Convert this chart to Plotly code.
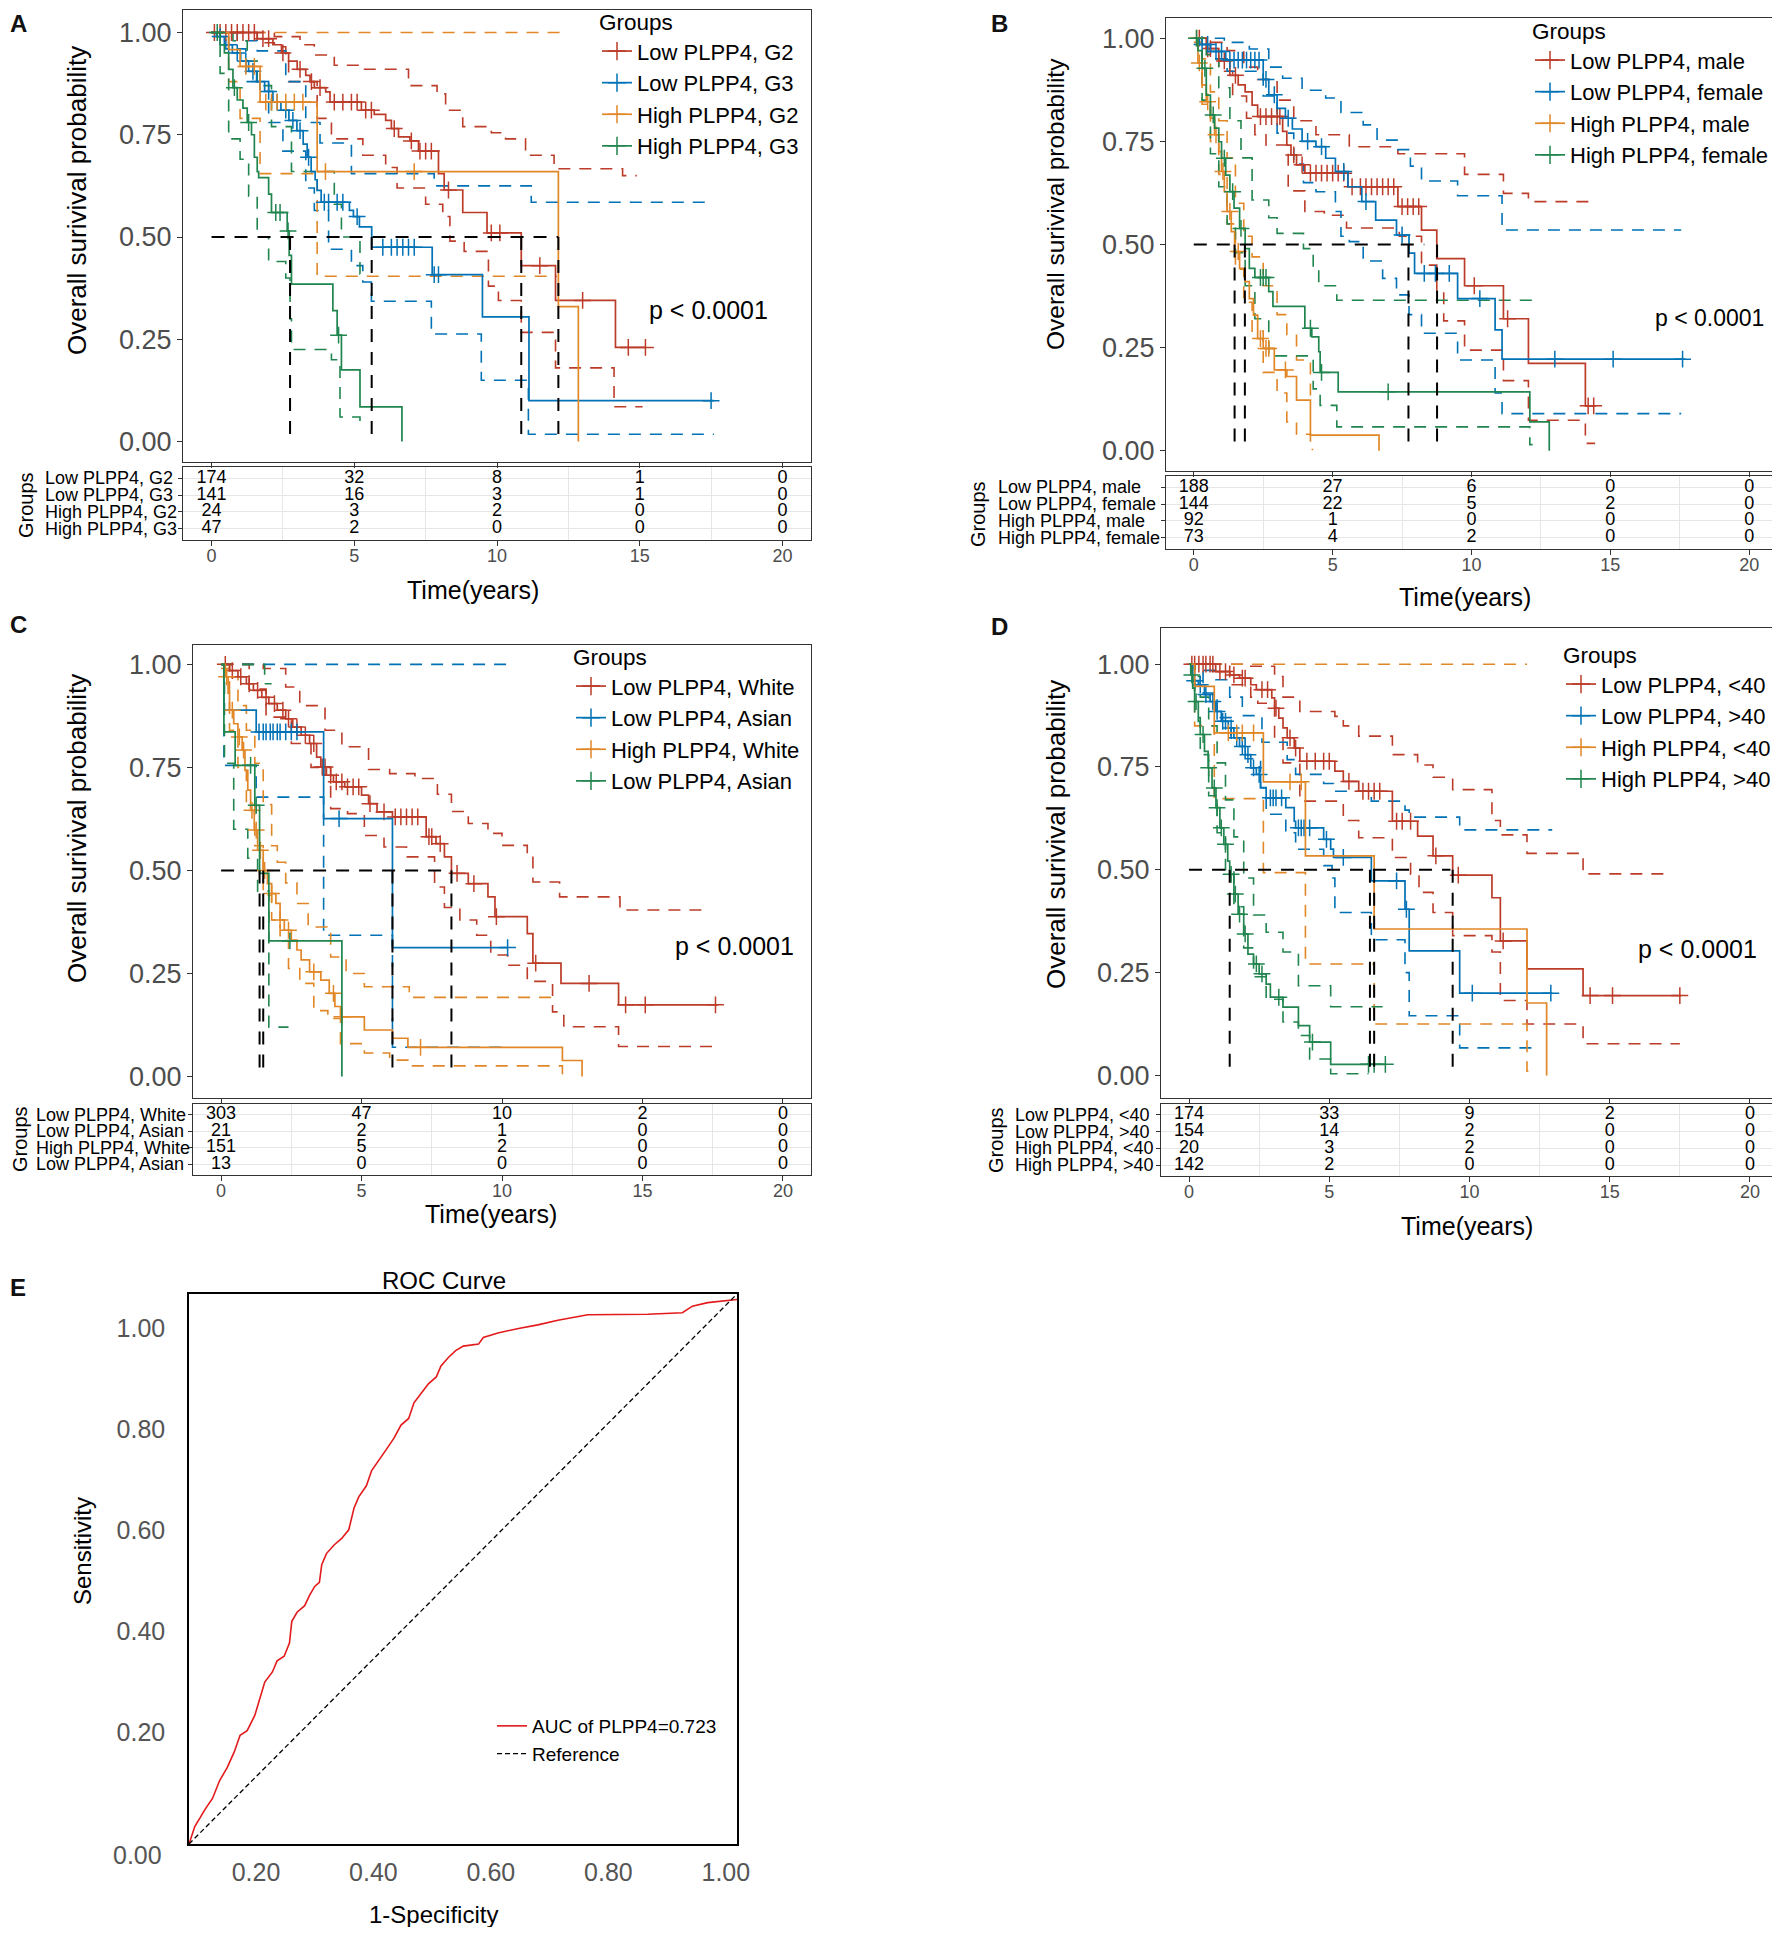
import plotly.graph_objects as go

OFF = 8                      # page body margin of the browser
FW, FH = 1772, 1919          # figure size so that page == 1780 x 1935
FONT = "Liberation Sans, Arial, sans-serif"
RED, BLUE, ORANGE, GREEN = "#BC3C29", "#0072B5", "#E18727", "#20854E"
COLORS = [RED, BLUE, ORANGE, GREEN]
TICKS = [0, 5, 10, 15, 20]

# ---------------- Panel A: grade ----------------
a_labels = ["Low PLPP4, G2", "Low PLPP4, G3", "High PLPP4, G2", "High PLPP4, G3"]
a_risk = [[174, 32, 8, 1, 0], [141, 16, 3, 1, 0], [24, 3, 2, 0, 0], [47, 2, 0, 0, 0]]
a_med = [2.75, 5.61, 10.85, 12.15]
a_hend = 12.15

a1_t = [0, 1.6, 2.15, 2.45, 2.7, 3.0, 3.3, 3.45, 3.6, 4.0, 4.15, 5.25, 5.7, 6.1, 6.3, 6.55, 6.95, 7.25, 7.95, 8.15, 8.8, 9.65, 10.85, 12.05, 14.15]
a1_s = [1.0, 0.985, 0.97, 0.95, 0.93, 0.91, 0.895, 0.88, 0.865, 0.855, 0.83, 0.81, 0.80, 0.785, 0.765, 0.745, 0.735, 0.71, 0.655, 0.615, 0.56, 0.51, 0.43, 0.345, 0.23]
a1_end = 15.2
a1_cens = [0.1, 0.3, 0.5, 0.7, 0.9, 1.1, 1.3, 1.5, 1.8, 2.0, 2.5, 3.1, 3.5, 3.8, 4.3, 4.6, 4.9, 5.1, 5.4, 5.6, 6.4, 7.0, 7.3, 7.5, 7.7, 8.3, 9.8, 10.1, 11.5, 13.0, 14.6, 15.2]
a1_up_t = [0, 2.2, 3.1, 3.6, 4.3, 5.25, 6.9, 7.9, 8.2, 8.8, 9.8, 10.3, 11.0, 12.0, 14.4]
a1_up_s = [1.0, 0.99, 0.97, 0.945, 0.92, 0.91, 0.87, 0.85, 0.81, 0.77, 0.755, 0.74, 0.70, 0.667, 0.65]
a1_up_end = 14.9
a1_lo_t = [0, 1.6, 2.2, 2.6, 2.7, 3.7, 4.2, 5.3, 6.1, 6.5, 7.5, 8.1, 8.35, 8.85, 9.7, 10.05, 10.85, 12.05, 14.1]
a1_lo_s = [1.0, 0.975, 0.965, 0.937, 0.88, 0.79, 0.74, 0.70, 0.67, 0.62, 0.58, 0.55, 0.49, 0.465, 0.38, 0.345, 0.267, 0.18, 0.085]
a1_lo_end = 15.1

a2_t = [0, 0.17, 0.45, 0.73, 1.02, 1.3, 1.58, 1.86, 2.15, 2.43, 2.71, 2.99, 3.21, 3.35, 3.49, 3.63, 3.7, 3.84, 4.83, 4.97, 5.18, 5.61, 7.73, 9.49, 11.12]
a2_s = [1.0, 0.99, 0.97, 0.95, 0.93, 0.905, 0.88, 0.856, 0.83, 0.81, 0.785, 0.76, 0.727, 0.695, 0.66, 0.64, 0.614, 0.585, 0.565, 0.55, 0.525, 0.475, 0.408, 0.305, 0.10]
a2_end = 17.6
a2_cens = [0.3, 0.6, 0.9, 1.2, 1.45, 1.7, 2.0, 2.3, 2.6, 2.85, 3.1, 3.4, 3.95, 4.1, 4.4, 4.6, 5.1, 6.0, 6.3, 6.5, 6.7, 6.9, 7.1, 7.8, 7.95, 17.5]
a2_up_t = [0, 0.9, 1.6, 2.6, 3.3, 3.8, 4.9, 7.8, 11.2]
a2_up_s = [1.0, 0.98, 0.955, 0.88, 0.78, 0.73, 0.655, 0.625, 0.585]
a2_up_end = 17.3
a2_lo_t = [0, 0.5, 1.2, 2.0, 2.5, 3.3, 3.6, 4.1, 4.9, 5.3, 5.6, 7.7, 9.45, 11.1]
a2_lo_s = [1.0, 0.96, 0.88, 0.78, 0.71, 0.62, 0.565, 0.47, 0.43, 0.39, 0.343, 0.263, 0.15, 0.018]
a2_lo_end = 17.6

a3_t = [0, 0.6, 1.0, 1.7, 3.7, 12.15, 12.85]
a3_s = [1.0, 0.958, 0.917, 0.83, 0.66, 0.33, 0.0]
a3_end = 12.85
a3_cens = [1.2, 1.5, 1.9, 2.1, 2.3, 2.6, 2.9, 3.2, 3.99, 7.1]
a3_up_t = [0]
a3_up_s = [1.0]
a3_up_end = 12.2
a3_lo_t = [0, 0.6, 1.0, 1.7, 3.7]
a3_lo_s = [1.0, 0.88, 0.79, 0.655, 0.404]
a3_lo_end = 12.1

a4_t = [0, 0.3, 0.45, 0.6, 0.75, 0.9, 1.1, 1.25, 1.4, 1.5, 1.6, 1.65, 2.0, 2.1, 2.65, 2.72, 2.8, 4.25, 4.4, 4.55, 5.2, 6.67]
a4_s = [1.0, 0.97, 0.95, 0.91, 0.865, 0.835, 0.815, 0.78, 0.75, 0.695, 0.66, 0.645, 0.605, 0.56, 0.515, 0.455, 0.385, 0.32, 0.26, 0.175, 0.085, 0.0]
a4_end = 6.67
a4_cens = [0.2, 0.8, 1.3, 2.25, 2.4, 2.68, 4.45]
a4_up_t = [0, 0.75, 1.25, 1.6, 2.1, 2.8, 4.3, 4.55, 5.2]
a4_up_s = [1.0, 0.98, 0.93, 0.87, 0.77, 0.66, 0.58, 0.50, 0.41]
a4_up_end = 5.5
a4_lo_t = [0, 0.3, 0.6, 1.0, 1.3, 1.6, 2.0, 2.6, 2.75, 2.8, 4.2, 4.5, 5.2]
a4_lo_s = [1.0, 0.9, 0.74, 0.69, 0.60, 0.50, 0.44, 0.40, 0.30, 0.225, 0.20, 0.06, 0.05]
a4_lo_end = 5.2

# ---------------- Panel B: gender ----------------
b_labels = ["Low PLPP4, male", "Low PLPP4, female", "High PLPP4, male", "High PLPP4, female"]
b_risk = [[188, 27, 6, 0, 0], [144, 22, 5, 2, 0], [92, 1, 0, 0, 0], [73, 4, 2, 0, 0]]
b_med = [1.47, 1.84, 7.73, 8.76]
b_hend = 8.3

b1_t = [0, 0.45, 0.9, 1.3, 1.6, 1.85, 2.1, 2.3, 3.2, 3.35, 3.5, 3.7, 4.0, 5.55, 7.35, 8.2, 8.75, 9.75, 11.15, 12.05, 14.1]
b1_s = [1.0, 0.975, 0.945, 0.91, 0.887, 0.87, 0.838, 0.81, 0.774, 0.741, 0.717, 0.693, 0.673, 0.64, 0.592, 0.535, 0.466, 0.40, 0.32, 0.212, 0.109]
b1_end = 14.45
b1_cens = [0.2, 0.6, 1.1, 1.5, 2.4, 2.6, 2.8, 3.0, 3.1, 3.6, 3.9, 4.2, 4.4, 4.6, 4.8, 5.0, 5.2, 5.4, 5.7, 6.0, 6.2, 6.4, 6.6, 6.8, 7.0, 7.2, 7.5, 7.7, 7.9, 8.1, 10.1, 11.3, 14.2, 14.4]
b1_up_t = [0, 0.5, 1.2, 1.8, 2.3, 3.0, 3.6, 4.4, 5.6, 7.35, 9.75, 11.15, 12.05]
b1_up_s = [1.0, 0.99, 0.97, 0.93, 0.90, 0.85, 0.80, 0.766, 0.737, 0.72, 0.67, 0.624, 0.604]
b1_up_end = 14.4
b1_lo_t = [0, 0.5, 0.9, 1.4, 1.9, 2.2, 2.6, 3.4, 4.0, 4.7, 5.5, 7.4, 8.2, 8.75, 9.0, 9.75, 11.15, 12.05, 14.1]
b1_lo_s = [1.0, 0.95, 0.92, 0.86, 0.806, 0.766, 0.741, 0.63, 0.58, 0.571, 0.54, 0.52, 0.45, 0.39, 0.315, 0.244, 0.17, 0.074, 0.018]
b1_lo_end = 14.45

b2_t = [0, 0.2, 0.6, 1.15, 2.5, 2.7, 3.0, 3.3, 3.55, 3.9, 4.4, 4.75, 5.1, 5.55, 6.05, 6.55, 7.3, 7.75, 7.95, 9.5, 10.85, 11.1]
b2_s = [1.0, 0.985, 0.968, 0.947, 0.90, 0.863, 0.83, 0.806, 0.78, 0.75, 0.737, 0.709, 0.677, 0.64, 0.604, 0.559, 0.523, 0.479, 0.43, 0.369, 0.293, 0.222]
b2_end = 17.7
b2_cens = [0.3, 0.5, 0.8, 1.0, 1.3, 1.45, 1.6, 1.75, 1.9, 2.05, 2.2, 2.35, 2.6, 2.9, 3.4, 4.1, 4.6, 5.4, 6.2, 7.5, 8.3, 8.7, 9.2, 10.3, 13.0, 15.1, 17.6]
b2_up_t = [0, 1.1, 2.0, 2.7, 3.2, 3.9, 4.75, 5.3, 6.1, 6.6, 7.35, 7.8, 8.2, 9.5, 11.1]
b2_up_s = [1.0, 0.99, 0.974, 0.93, 0.903, 0.874, 0.855, 0.82, 0.79, 0.753, 0.73, 0.69, 0.654, 0.618, 0.535]
b2_up_end = 17.55
b2_lo_t = [0, 0.6, 1.2, 2.5, 3.0, 3.6, 3.95, 4.4, 5.1, 5.3, 5.6, 6.1, 6.8, 7.3, 7.75, 8.2, 9.5, 10.85, 11.1]
b2_lo_s = [1.0, 0.95, 0.92, 0.86, 0.77, 0.695, 0.65, 0.628, 0.58, 0.52, 0.507, 0.46, 0.418, 0.378, 0.33, 0.285, 0.22, 0.14, 0.09]
b2_lo_end = 17.55

b3_t = [0, 0.15, 0.3, 0.45, 0.6, 0.75, 0.9, 1.0, 1.1, 1.2, 1.35, 1.47, 1.65, 1.85, 2.0, 2.15, 2.3, 2.5, 2.9, 3.35, 3.7, 4.2, 6.67]
b3_s = [1.0, 0.94, 0.887, 0.846, 0.806, 0.766, 0.725, 0.677, 0.628, 0.58, 0.531, 0.483, 0.442, 0.41, 0.369, 0.329, 0.272, 0.248, 0.196, 0.18, 0.123, 0.038, 0.0]
b3_end = 6.67
b3_cens = [0.1, 0.2, 0.5, 0.8, 1.05, 1.3, 1.6, 2.4, 2.6, 2.7, 3.3]
b3_up_t = [0, 0.3, 0.6, 0.9, 1.2, 1.5, 1.8, 2.1, 2.5, 3.0, 3.35, 3.7, 4.2]
b3_up_s = [1.0, 0.95, 0.87, 0.80, 0.71, 0.60, 0.52, 0.47, 0.40, 0.33, 0.28, 0.22, 0.13]
b3_up_end = 4.3
b3_lo_t = [0, 0.3, 0.6, 0.9, 1.2, 1.5, 1.8, 2.1, 2.5, 3.0, 3.35, 3.7, 4.2]
b3_lo_s = [0.99, 0.84, 0.75, 0.67, 0.55, 0.44, 0.36, 0.29, 0.19, 0.14, 0.07, 0.04, 0.003]
b3_lo_end = 4.3

b4_t = [0, 0.15, 0.3, 0.45, 0.6, 0.75, 0.9, 1.0, 1.15, 1.3, 1.45, 1.65, 1.85, 2.0, 2.2, 2.7, 2.85, 4.0, 4.25, 4.5, 4.55, 5.2, 12.1, 12.8]
b4_s = [1.0, 0.97, 0.927, 0.862, 0.814, 0.782, 0.749, 0.709, 0.668, 0.628, 0.588, 0.539, 0.49, 0.442, 0.42, 0.386, 0.35, 0.297, 0.276, 0.24, 0.19, 0.143, 0.07, 0.0]
b4_end = 12.8
b4_cens = [0.1, 0.4, 0.7, 1.1, 1.4, 1.7, 2.4, 2.5, 2.6, 4.2, 4.6, 7.0]
b4_up_t = [0, 0.45, 0.9, 1.3, 1.7, 2.1, 2.7, 3.0, 3.95, 4.3, 4.5, 5.15]
b4_up_s = [1.0, 0.96, 0.88, 0.80, 0.71, 0.608, 0.565, 0.527, 0.49, 0.44, 0.40, 0.365]
b4_up_end = 12.2
b4_lo_t = [0, 0.3, 0.6, 0.9, 1.2, 1.5, 1.85, 2.2, 2.7, 4.3, 4.55, 5.15, 12.1]
b4_lo_s = [1.0, 0.85, 0.72, 0.64, 0.55, 0.48, 0.40, 0.32, 0.23, 0.15, 0.11, 0.058, 0.015]
b4_lo_end = 12.2

# ---------------- Panel C: race ----------------
c_labels = ["Low PLPP4, White", "Low PLPP4, Asian", "High PLPP4, White", "Low PLPP4, Asian"]
c_risk = [[303, 47, 10, 2, 0], [21, 2, 1, 0, 0], [151, 5, 2, 0, 0], [13, 0, 0, 0, 0]]
c_med = [1.37, 1.5, 6.1, 8.2]
c_hend = 8.2

c1_t = [0, 0.3, 0.6, 0.9, 1.15, 1.45, 1.7, 2.0, 2.3, 2.55, 2.85, 3.15, 3.4, 3.55, 3.75, 4.0, 4.4, 5.0, 5.25, 5.55, 6.1, 7.3, 7.65, 7.95, 8.2, 8.8, 9.5, 9.75, 10.9, 11.1, 12.1, 14.15]
c1_s = [1.0, 0.985, 0.97, 0.953, 0.937, 0.92, 0.905, 0.889, 0.868, 0.848, 0.828, 0.808, 0.775, 0.751, 0.731, 0.715, 0.703, 0.683, 0.662, 0.642, 0.63, 0.582, 0.565, 0.533, 0.493, 0.468, 0.436, 0.388, 0.347, 0.275, 0.226, 0.174]
c1_end = 17.7
c1_cens = [0.15, 0.4, 0.7, 1.0, 1.3, 1.6, 1.9, 2.2, 2.4, 2.7, 3.0, 3.3, 3.6, 3.7, 3.9, 4.1, 4.3, 4.5, 4.7, 4.9, 5.3, 5.8, 6.2, 6.4, 6.6, 6.8, 7.0, 7.4, 7.5, 7.8, 8.4, 9.0, 9.8, 11.2, 13.1, 14.4, 15.1, 17.6]
c1_up_t = [0, 1.5, 2.3, 2.8, 3.7, 4.3, 5.25, 6.0, 6.9, 7.7, 8.2, 8.8, 9.5, 10.0, 10.9, 11.1, 12.05, 14.2]
c1_up_s = [1.0, 0.99, 0.945, 0.90, 0.84, 0.80, 0.745, 0.735, 0.723, 0.685, 0.643, 0.614, 0.59, 0.561, 0.535, 0.472, 0.436, 0.404]
c1_up_end = 17.1
c1_lo_t = [0, 1.0, 1.6, 2.5, 3.2, 3.9, 4.5, 5.1, 5.8, 6.6, 7.6, 7.95, 8.5, 9.1, 9.6, 10.2, 10.9, 11.8, 12.2, 14.15]
c1_lo_s = [1.0, 0.94, 0.872, 0.808, 0.75, 0.65, 0.638, 0.585, 0.557, 0.533, 0.46, 0.41, 0.38, 0.343, 0.295, 0.27, 0.231, 0.157, 0.121, 0.073]
c1_lo_end = 17.6

c2_t = [0, 0.1, 1.25, 3.65, 6.1]
c2_s = [1.0, 0.889, 0.836, 0.626, 0.313]
c2_end = 10.2
c2_cens = [1.35, 1.5, 1.6, 1.75, 1.85, 2.0, 2.1, 2.3, 2.5, 2.7, 4.2, 10.2]
c2_up_t = [0]
c2_up_s = [1.0]
c2_up_end = 10.2
c2_lo_t = [0, 0.1, 1.25, 3.65, 6.1]
c2_lo_s = [1.0, 0.755, 0.678, 0.343, 0.071]
c2_lo_end = 10.0

c3_t = [0, 0.15, 0.25, 0.3, 0.45, 0.6, 0.75, 0.85, 0.95, 1.05, 1.18, 1.3, 1.5, 1.65, 1.8, 1.95, 2.1, 2.25, 2.5, 2.7, 2.85, 3.15, 3.55, 3.85, 4.05, 4.25, 5.1, 6.1, 6.65, 12.15, 12.85]
c3_s = [1.0, 0.97, 0.93, 0.889, 0.856, 0.824, 0.792, 0.743, 0.695, 0.646, 0.598, 0.549, 0.50, 0.468, 0.444, 0.42, 0.38, 0.355, 0.331, 0.307, 0.283, 0.254, 0.234, 0.202, 0.17, 0.145, 0.113, 0.093, 0.071, 0.039, 0.0]
c3_end = 12.85
c3_cens = [0.2, 0.4, 0.65, 0.8, 1.1, 1.25, 1.4, 1.55, 1.8, 2.1, 2.4, 3.3, 4.0, 4.3, 7.1]
c3_up_t = [0, 0.3, 0.6, 0.9, 1.2, 1.5, 1.8, 2.0, 2.3, 2.7, 3.1, 3.9, 4.45, 5.1, 6.7]
c3_up_s = [1.0, 0.97, 0.90, 0.84, 0.76, 0.66, 0.56, 0.52, 0.47, 0.42, 0.363, 0.29, 0.25, 0.218, 0.192]
c3_up_end = 11.8
c3_lo_t = [0, 0.3, 0.6, 0.9, 1.2, 1.5, 1.8, 2.1, 2.4, 2.8, 3.3, 3.8, 4.25, 5.1, 6.0, 6.65, 12.15]
c3_lo_s = [0.99, 0.84, 0.75, 0.66, 0.56, 0.44, 0.38, 0.33, 0.262, 0.226, 0.16, 0.141, 0.08, 0.057, 0.04, 0.026, 0.004]
c3_lo_end = 12.2

c4_t = [0, 0.1, 0.5, 1.2, 1.37, 1.7, 4.3]
c4_s = [1.0, 0.836, 0.755, 0.658, 0.493, 0.329, 0.0]
c4_end = 4.3
c4_cens = [1.05, 1.25, 2.45]
c4_up_t = [0, 1.55]
c4_up_s = [1.0, 0.953]
c4_up_end = 1.8
c4_lo_t = [0, 0.12, 0.45, 0.95, 1.3, 1.7]
c4_lo_s = [1.0, 0.76, 0.60, 0.53, 0.45, 0.12]
c4_lo_end = 2.4

# ---------------- Panel D: age ----------------
d_labels = ["Low PLPP4, &lt;40", "Low PLPP4, &gt;40", "High PLPP4, &lt;40", "High PLPP4, &gt;40"]
d_risk = [[174, 33, 9, 2, 0], [154, 14, 2, 0, 0], [20, 3, 2, 0, 0], [142, 2, 0, 0, 0]]
d_med = [1.45, 6.45, 6.6, 9.4]
d_hend = 9.32

d1_t = [0, 0.95, 1.45, 1.8, 2.2, 2.4, 2.95, 3.05, 3.2, 3.35, 3.5, 3.75, 3.95, 5.2, 5.5, 6.05, 7.25, 8.15, 8.7, 9.4, 10.8, 11.1, 12.05, 14.05]
d1_s = [1.0, 0.982, 0.974, 0.966, 0.95, 0.938, 0.918, 0.893, 0.869, 0.845, 0.821, 0.796, 0.764, 0.74, 0.715, 0.691, 0.618, 0.582, 0.534, 0.487, 0.432, 0.327, 0.259, 0.194]
d1_end = 17.55
d1_cens = [0.1, 0.2, 0.35, 0.5, 0.6, 0.75, 0.85, 1.1, 1.3, 1.6, 1.9, 2.0, 2.6, 2.8, 3.1, 3.6, 3.8, 4.2, 4.5, 4.8, 5.0, 5.7, 6.2, 6.4, 6.6, 6.8, 7.4, 7.6, 7.9, 8.8, 9.6, 11.2, 14.3, 15.1, 17.5]
d1_up_t = [0, 2.2, 3.05, 3.35, 3.95, 5.2, 5.5, 6.05, 7.25, 8.15, 8.7, 9.4, 10.8, 11.1, 12.05, 14.05]
d1_up_s = [1.0, 0.995, 0.97, 0.92, 0.885, 0.873, 0.85, 0.825, 0.78, 0.755, 0.725, 0.695, 0.62, 0.585, 0.54, 0.49]
d1_up_end = 17.0
d1_lo_t = [0, 1.45, 2.2, 2.45, 3.05, 3.35, 3.95, 5.5, 6.05, 7.25, 7.9, 8.2, 8.7, 9.4, 10.8, 11.1, 12.05, 14.05]
d1_lo_s = [1.0, 0.95, 0.92, 0.905, 0.82, 0.76, 0.667, 0.62, 0.578, 0.53, 0.489, 0.445, 0.396, 0.34, 0.30, 0.182, 0.125, 0.077]
d1_lo_end = 17.5

d2_t = [0, 0.13, 0.33, 0.55, 0.75, 0.95, 1.15, 1.4, 1.6, 1.8, 2.0, 2.2, 2.4, 2.55, 2.75, 3.45, 3.75, 3.8, 4.8, 5.05, 5.15, 6.5, 7.7, 7.85, 9.65]
d2_s = [1.0, 0.96, 0.95, 0.926, 0.909, 0.885, 0.861, 0.845, 0.821, 0.80, 0.78, 0.748, 0.732, 0.699, 0.675, 0.651, 0.618, 0.602, 0.574, 0.55, 0.53, 0.473, 0.404, 0.303, 0.20]
d2_end = 12.95
d2_cens = [0.2, 0.4, 0.6, 0.85, 1.0, 1.2, 1.3, 1.5, 1.7, 1.9, 2.1, 2.3, 2.5, 2.9, 3.0, 3.1, 3.3, 3.9, 4.0, 4.1, 4.3, 4.9, 5.5, 7.4, 7.75, 10.1, 12.9]
d2_up_t = [0, 0.5, 0.95, 1.45, 1.9, 2.6, 3.5, 3.8, 4.8, 5.15, 6.5, 7.7, 7.85, 9.65]
d2_up_s = [1.0, 0.985, 0.962, 0.92, 0.875, 0.81, 0.768, 0.732, 0.71, 0.691, 0.667, 0.645, 0.628, 0.597]
d2_up_end = 12.95
d2_lo_t = [0, 0.5, 1.0, 1.5, 2.0, 2.55, 2.75, 3.45, 3.8, 4.8, 5.1, 5.2, 6.5, 7.7, 7.85, 9.65]
d2_lo_s = [1.0, 0.93, 0.87, 0.82, 0.77, 0.70, 0.635, 0.59, 0.55, 0.51, 0.48, 0.396, 0.33, 0.25, 0.145, 0.067]
d2_lo_end = 12.4

d3_t = [0, 0.2, 0.9, 2.65, 4.15, 6.6, 12.05, 12.75]
d3_s = [1.0, 0.946, 0.833, 0.714, 0.534, 0.356, 0.176, 0.0]
d3_end = 12.75
d3_cens = [1.4, 1.7, 1.9, 2.3, 3.6, 4.0]
d3_up_t = [0]
d3_up_s = [1.0]
d3_up_end = 12.05
d3_lo_t = [0, 0.2, 0.9, 2.65, 4.15, 6.6, 12.05]
d3_lo_s = [1.0, 0.85, 0.673, 0.493, 0.271, 0.125, 0.01]
d3_lo_end = 12.1

d4_t = [0, 0.06, 0.13, 0.2, 0.33, 0.4, 0.55, 0.68, 0.82, 0.96, 1.1, 1.24, 1.38, 1.45, 1.6, 1.75, 1.95, 2.1, 2.3, 2.5, 2.75, 2.9, 3.35, 3.9, 4.3, 5.05]
d4_s = [1.0, 0.974, 0.942, 0.909, 0.861, 0.829, 0.788, 0.748, 0.699, 0.651, 0.602, 0.562, 0.521, 0.489, 0.441, 0.392, 0.344, 0.295, 0.271, 0.247, 0.222, 0.19, 0.166, 0.121, 0.081, 0.027]
d4_end = 7.0
d4_cens = [0.1, 0.25, 0.5, 0.7, 0.9, 1.0, 1.15, 1.3, 1.5, 1.65, 1.8, 2.0, 2.4, 2.6, 3.2, 4.4, 6.4, 6.6, 7.0]
d4_up_t = [0, 0.2, 0.4, 0.7, 1.0, 1.3, 1.6, 1.95, 2.3, 2.75, 3.35, 3.9, 5.05]
d4_up_s = [1.0, 0.97, 0.92, 0.85, 0.76, 0.67, 0.58, 0.48, 0.39, 0.348, 0.30, 0.218, 0.167]
d4_up_end = 6.9
d4_lo_t = [0, 0.2, 0.4, 0.7, 1.0, 1.3, 1.6, 1.95, 2.3, 2.75, 3.35, 3.9, 4.3, 5.05]
d4_lo_s = [1.0, 0.87, 0.78, 0.68, 0.59, 0.50, 0.41, 0.31, 0.24, 0.185, 0.13, 0.097, 0.04, 0.004]
d4_lo_end = 6.4

# ---------------- Panel E: ROC ----------------
roc_fpr = [0.086, 0.096, 0.105, 0.113, 0.126, 0.138, 0.151, 0.163, 0.173, 0.185, 0.198, 0.206, 0.215, 0.228, 0.236, 0.248, 0.257, 0.261, 0.270, 0.283, 0.291, 0.300, 0.308, 0.312, 0.320, 0.333, 0.346, 0.358, 0.367, 0.375, 0.388, 0.397, 0.410, 0.422, 0.435, 0.447, 0.460, 0.469, 0.482, 0.494, 0.507, 0.515, 0.528, 0.540, 0.553, 0.579, 0.587, 0.612, 0.647, 0.680, 0.714, 0.765, 0.867, 0.926, 0.943, 0.969, 1.019]
roc_tpr = [-0.020, 0.015, 0.032, 0.048, 0.070, 0.105, 0.131, 0.162, 0.195, 0.204, 0.234, 0.265, 0.300, 0.320, 0.342, 0.351, 0.377, 0.420, 0.438, 0.451, 0.471, 0.489, 0.497, 0.532, 0.554, 0.571, 0.584, 0.601, 0.644, 0.666, 0.688, 0.718, 0.739, 0.760, 0.782, 0.808, 0.821, 0.852, 0.872, 0.890, 0.903, 0.925, 0.942, 0.955, 0.964, 0.968, 0.981, 0.990, 0.999, 1.006, 1.015, 1.026, 1.027, 1.030, 1.043, 1.050, 1.056]
ref_x = [0.086, 1.019]
ref_y = [-0.020, 1.067]
roc_xticks = [0.2, 0.4, 0.6, 0.8, 1.0]
roc_yticks = [0.2, 0.4, 0.6, 0.8, 1.0]
auc_label = "AUC of PLPP4=0.723"

Y_TICKS = [0, 0.25, 0.5, 0.75, 1.0]
Y_TEXT = ["0.00", "0.25", "0.50", "0.75", "1.00"]


def grp(p, i):
    g = globals()
    k = f"{p}{i}_"
    return dict(t=g[k + "t"], s=g[k + "s"], end=g[k + "end"], cens=g[k + "cens"],
                ut=g[k + "up_t"], us=g[k + "up_s"], uend=g[k + "up_end"],
                lt=g[k + "lo_t"], ls=g[k + "lo_s"], lend=g[k + "lo_end"])


# positions below are in page pixels (1780 x 1935 page)
PANELS = [
    dict(key="a", letter="A", labels=a_labels, risk=a_risk, med=a_med, hend=a_hend,
         bx=(183, 811), my=(10, 462), ry=(467, 540), yr=[-0.05, 1.055],
         let=(8, 8), yt=(77, 201), ytf=26, grp=(26, 505), rl=43, tt=(473, 590),
         leg=(597, 1), p=(708, 310), pf=25),
    dict(key="b", letter="B", labels=b_labels, risk=b_risk, med=b_med, hend=b_hend,
         bx=(1166, 1777), my=(18, 471), ry=(476, 549), yr=[-0.049, 1.049],
         let=(989, 8), yt=(1056, 204), ytf=24.5, grp=(978, 514), rl=996, tt=(1465, 597),
         leg=(1530, 10), p=(1709, 318), pf=23),
    dict(key="c", letter="C", labels=c_labels, risk=c_risk, med=c_med, hend=c_hend,
         bx=(193, 811), my=(645, 1098), ry=(1104, 1175), yr=[-0.052, 1.047],
         let=(8, 609), yt=(77, 829), ytf=26, grp=(20, 1139), rl=34, tt=(491, 1214),
         leg=(571, 636), p=(734, 946), pf=25),
    dict(key="d", letter="D", labels=d_labels, risk=d_risk, med=d_med, hend=d_hend,
         bx=(1161, 1778), my=(628, 1098), ry=(1104, 1176), yr=[-0.055, 1.088],
         let=(989, 611), yt=(1056, 835), ytf=26, grp=(996, 1140), rl=1013, tt=(1467, 1226),
         leg=(1561, 634), p=(1697, 949), pf=25),
]


def px_x(x):
    return (x - OFF) / FW


def px_y(y):
    return 1 - (y - OFF) / FH


def stepxy(t, s, end):
    return list(t) + [end], list(s) + [s[-1]]


def surv_at(t, s, c):
    v = s[0]
    for ti, si in zip(t, s):
        if ti <= c:
            v = si
    return v


def axn(n, kind):
    return kind if n == 1 else f"{kind}{n}"


def lkey(n, kind):
    return f"{kind}axis" if n == 1 else f"{kind}axis{n}"


fig = go.Figure()
layout = dict(width=FW, height=FH, margin=dict(l=0, r=0, t=0, b=0, autoexpand=False), autosize=False,
              paper_bgcolor="white", plot_bgcolor="white",
              font=dict(family=FONT, color="black"), showlegend=True)
annotations = []
AXC = "#333333"
TICKC = "#4D4D4D"

for pi, P in enumerate(PANELS):
    nm = 2 * pi + 1
    nr = 2 * pi + 2
    legname = "legend" if pi == 0 else f"legend{pi + 1}"
    xm, ym = axn(nm, "x"), axn(nm, "y")
    xr, yrr = axn(nr, "x"), axn(nr, "y")
    groups = [grp(P["key"], i) for i in range(1, 5)]
    for gi, g in enumerate(groups):
        for tt, ss, ee in ((g["ut"], g["us"], g["uend"]), (g["lt"], g["ls"], g["lend"])):
            x, y = stepxy(tt, ss, ee)
            fig.add_trace(go.Scatter(x=x, y=y, mode="lines", line=dict(color=COLORS[gi], width=1.6, dash="12px,9px", shape="hv"),
                                     xaxis=xm, yaxis=ym, showlegend=False, hoverinfo="skip"))
    for gi, g in enumerate(groups):
        x, y = stepxy(g["t"], g["s"], g["end"])
        fig.add_trace(go.Scatter(x=x, y=y, mode="lines", line=dict(color=COLORS[gi], width=1.7, shape="hv"),
                                 xaxis=xm, yaxis=ym, showlegend=False))
        cy = [surv_at(g["t"], g["s"], c) for c in g["cens"]]
        fig.add_trace(go.Scatter(x=g["cens"], y=cy, mode="markers",
                                 marker=dict(symbol="cross-thin", size=12, line=dict(color=COLORS[gi], width=1.5)),
                                 xaxis=xm, yaxis=ym, showlegend=False))
    mx, my_ = [0, P["hend"]], [0.5, 0.5]
    for m in P["med"]:
        mx += [None, m, m]
        my_ += [None, 0.5, 0]
    fig.add_trace(go.Scatter(x=mx, y=my_, mode="lines", line=dict(color="black", width=2, dash="13px,10px"),
                             xaxis=xm, yaxis=ym, showlegend=False, hoverinfo="skip"))
    for gi, lab in enumerate(P["labels"]):
        fig.add_trace(go.Scatter(x=[None], y=[None], mode="lines+markers", name=lab,
                                 line=dict(color=COLORS[gi], width=1.7),
                                 marker=dict(symbol="cross-thin", size=13, line=dict(color=COLORS[gi], width=1.5)),
                                 xaxis=xm, yaxis=ym, legend=legname, showlegend=True))
    rx, ry, rt = [], [], []
    for ri, row in enumerate(P["risk"]):
        for tx, v in zip(TICKS, row):
            rx.append(tx)
            ry.append(ri + 1)
            rt.append(str(v))
    fig.add_trace(go.Scatter(x=rx, y=ry, text=rt, mode="text", textfont=dict(size=18, color="black", family=FONT),
                             xaxis=xr, yaxis=yrr, showlegend=False, hoverinfo="skip"))

    bx = [px_x(P["bx"][0]), px_x(P["bx"][1])]
    layout[lkey(nm, "x")] = dict(domain=bx, range=[-1, 21], tickvals=TICKS, ticks="outside", ticklen=5,
                                 tickcolor=AXC, showticklabels=False, showline=True, mirror=True,
                                 linecolor=AXC, linewidth=1, showgrid=False, zeroline=False, anchor=ym)
    layout[lkey(nm, "y")] = dict(domain=[px_y(P["my"][1]), px_y(P["my"][0])], range=P["yr"], tickvals=Y_TICKS,
                                 ticktext=Y_TEXT, ticks="outside", ticklen=5, tickcolor=AXC,
                                 tickfont=dict(size=27, color=TICKC), showline=True, mirror=True,
                                 linecolor=AXC, linewidth=1, showgrid=False, zeroline=False, anchor=xm)
    layout[lkey(nr, "x")] = dict(domain=bx, range=[-1, 21], tickvals=TICKS, ticks="outside", ticklen=5,
                                 tickcolor=AXC, tickfont=dict(size=18, color=TICKC), showline=True, mirror=True,
                                 linecolor=AXC, linewidth=1, showgrid=False, zeroline=False, anchor=yrr,
                                 ticklabelstandoff=-6,
                                 minor=dict(tickvals=[2.5, 7.5, 12.5, 17.5], showgrid=True, gridcolor="#E6E6E6",
                                            gridwidth=1, ticks=""))
    layout[lkey(nr, "y")] = dict(domain=[px_y(P["ry"][1]), px_y(P["ry"][0])], range=[4.65, 0.35],
                                 tickvals=[1, 2, 3, 4], ticktext=["", "", "", ""], ticks="outside", ticklen=4,
                                 tickcolor=AXC, showline=True, mirror=True, linecolor=AXC, linewidth=1,
                                 showgrid=True, gridcolor="#E6E6E6", zeroline=False, anchor=xr)
    layout[legname] = dict(x=px_x(P["leg"][0]), y=px_y(P["leg"][1]), xanchor="left", yanchor="top",
                           bgcolor="rgba(0,0,0,0)", font=dict(size=22, color="black", family=FONT),
                           title=dict(text="Groups", font=dict(size=22.5, color="black", family=FONT)),
                           tracegroupgap=0, itemwidth=30)

    rtop, rbot = P["ry"]
    for ri, lab in enumerate(P["labels"]):
        yv = rtop + (rbot - rtop) * ((ri + 1) - 0.35) / 4.3
        annotations.append(dict(x=px_x(P["rl"]), y=px_y(yv), xref="paper", yref="paper", text=lab,
                                showarrow=False, xanchor="left", yanchor="middle",
                                font=dict(size=18, color="black", family=FONT)))
    annotations += [
        dict(x=px_x(P["let"][0]), y=px_y(P["let"][1]), xref="paper", yref="paper", text=f"<b>{P['letter']}</b>",
             showarrow=False, xanchor="left", yanchor="top", font=dict(size=24, color="#111", family=FONT)),
        dict(x=px_x(P["yt"][0]), y=px_y(P["yt"][1]), xref="paper", yref="paper", text="Overall surivival probability",
             showarrow=False, textangle=-90, xanchor="center", yanchor="middle", font=dict(size=P["ytf"], color="black")),
        dict(x=px_x(P["grp"][0]), y=px_y(P["grp"][1]), xref="paper", yref="paper", text="Groups",
             showarrow=False, textangle=-90, xanchor="center", yanchor="middle", font=dict(size=20, color="black")),
        dict(x=px_x(P["tt"][0]), y=px_y(P["tt"][1]), xref="paper", yref="paper", text="Time(years)",
             showarrow=False, xanchor="center", yanchor="middle", font=dict(size=25, color="black")),
        dict(x=px_x(P["p"][0]), y=px_y(P["p"][1]), xref="paper", yref="paper", text="p &lt; 0.0001",
             showarrow=False, xanchor="center", yanchor="middle", font=dict(size=P["pf"], color="black")),
    ]

# ROC panel
fig.add_trace(go.Scatter(x=roc_fpr, y=roc_tpr, mode="lines", name=auc_label, line=dict(color="#E31A1C", width=1.6),
                         xaxis="x9", yaxis="y9", legend="legend5"))
fig.add_trace(go.Scatter(x=ref_x, y=ref_y, mode="lines", name="Reference",
                         line=dict(color="black", width=1.3, dash="5px,3px"),
                         xaxis="x9", yaxis="y9", legend="legend5"))
layout["xaxis9"] = dict(domain=[px_x(189), px_x(737)], range=[ref_x[0], ref_x[1]], tickvals=roc_xticks,
                        ticktext=[f"{v:.2f}" for v in roc_xticks], ticks="", tickfont=dict(size=25, color="#555"),
                        showline=True, mirror=True, linecolor="black", linewidth=1.5, showgrid=False,
                        zeroline=False, anchor="y9", ticklabelstandoff=5)
layout["yaxis9"] = dict(domain=[px_y(1844), px_y(1294)], range=[ref_y[0], ref_y[1]], tickvals=roc_yticks,
                        ticktext=[f"{v:.2f}" for v in roc_yticks], ticks="", tickfont=dict(size=25, color="#555"),
                        showline=True, mirror=True, linecolor="black", linewidth=1.5, showgrid=False,
                        zeroline=False, anchor="x9", ticklabelstandoff=17)
layout["legend5"] = dict(x=px_x(492), y=px_y(1707), xanchor="left", yanchor="top", bgcolor="rgba(0,0,0,0)",
                         font=dict(size=19, color="black", family=FONT), tracegroupgap=0, itemwidth=30)
annotations += [
    dict(x=px_x(164), y=px_y(1855), xref="paper", yref="paper", text="0.00", showarrow=False,
         xanchor="right", yanchor="middle", font=dict(size=25, color="#555")),
    dict(x=px_x(8), y=px_y(1272), xref="paper", yref="paper", text="<b>E</b>", showarrow=False,
         xanchor="left", yanchor="top", font=dict(size=24, color="#111")),
    dict(x=px_x(444), y=px_y(1280), xref="paper", yref="paper", text="ROC Curve", showarrow=False,
         xanchor="center", yanchor="middle", font=dict(size=24, color="black")),
    dict(x=px_x(82), y=px_y(1551), xref="paper", yref="paper", text="Sensitivity", showarrow=False,
         textangle=-90, xanchor="center", yanchor="middle", font=dict(size=24, color="black")),
    dict(x=px_x(433), y=px_y(1914), xref="paper", yref="paper", text="1-Specificity", showarrow=False,
         xanchor="center", yanchor="middle", font=dict(size=24, color="black")),
]
layout["annotations"] = annotations
fig.update_layout(**layout)
fig.write_html("out.html")
